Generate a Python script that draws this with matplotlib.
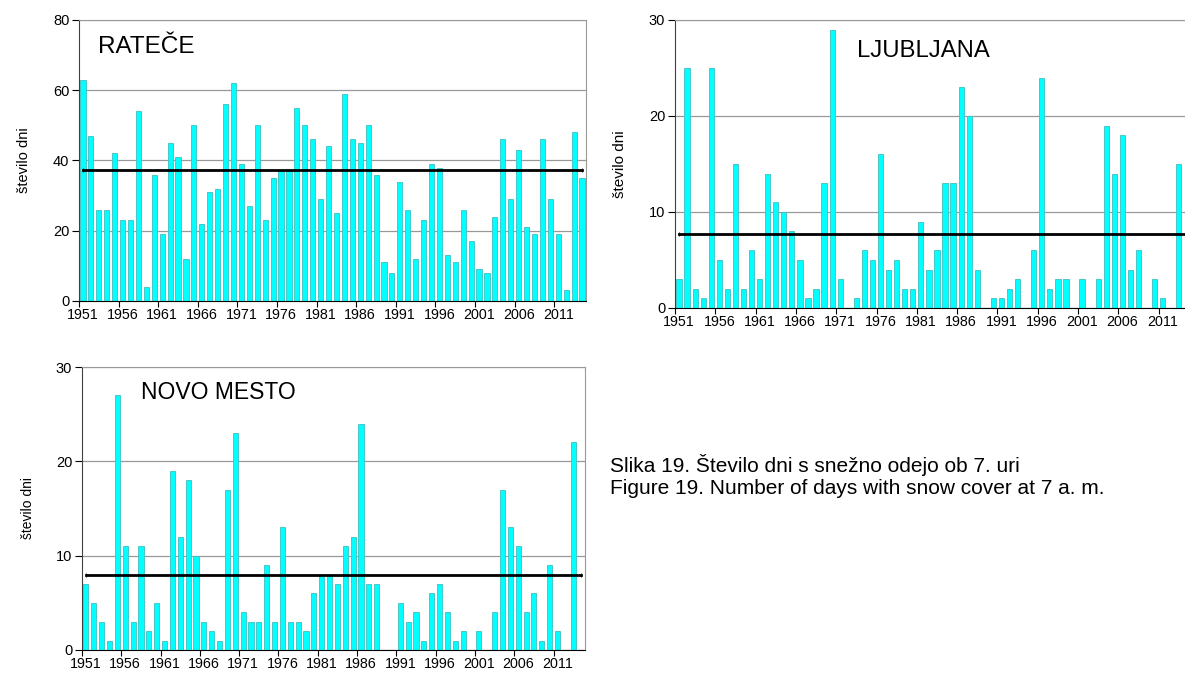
import numpy as np
import matplotlib
matplotlib.use("Agg")
import matplotlib.pyplot as plt

plt.rcParams['font.family'] = ['Liberation Sans', 'DejaVu Sans']

# podatki - število dni s snežno odejo ob 7. uri
leta = list(range(1951, 2015))

ratece = [63, 47, 26, 26, 42, 23, 23, 54, 4, 36,
          19, 45, 41, 12, 50, 22, 31, 32, 56, 62,
          39, 27, 50, 23, 35, 37, 37, 55, 50, 46,
          29, 44, 25, 59, 46, 45, 50, 36, 11, 8,
          34, 26, 12, 23, 39, 38, 13, 11, 26, 17,
          9, 8, 24, 46, 29, 43, 21, 19, 46, 29,
          19, 3, 48, 35]
ratece_povp = 37.4

# zadnje leto (2014) je na sliki odrezano
ljubljana = [3, 25, 2, 1, 25, 5, 2, 15, 2, 6,
             3, 14, 11, 10, 8, 5, 1, 2, 13, 29,
             3, 0, 1, 6, 5, 16, 4, 5, 2, 2,
             9, 4, 6, 13, 13, 23, 20, 4, 0, 1,
             1, 2, 3, 0, 6, 24, 2, 3, 3, 0,
             3, 0, 3, 19, 14, 18, 4, 6, 0, 3,
             1, 0, 15]
ljubljana_povp = 7.75

novo_mesto = [7, 5, 3, 1, 27, 11, 3, 11, 2, 5,
              1, 19, 12, 18, 10, 3, 2, 1, 17, 23,
              4, 3, 3, 9, 3, 13, 3, 3, 2, 6,
              8, 8, 7, 11, 12, 24, 7, 7, 0, 0,
              5, 3, 4, 1, 6, 7, 4, 1, 2, 0,
              2, 0, 4, 17, 13, 11, 4, 6, 1, 9,
              2, 0, 22, 0]
novo_mesto_povp = 7.9

oznake_let = [str(l) for l in leta[::5]]

naslov_si = "Slika 19. Število dni s snežno odejo ob 7. uri"
naslov_en = "Figure 19. Number of days with snow cover at 7 a. m."


def narisi_postajo(ax, vrednosti, povprecje, ime, ymax, ykorak, ime_xy, ime_size, ylab_x, ylab_size):
    n = len(leta)
    x = np.arange(len(vrednosti))
    ax.bar(x, vrednosti, width=0.65, color='#00FFFF', edgecolor='#3FBFBF', linewidth=0.6, zorder=2)
    ax.plot([0, n - 1], [povprecje, povprecje], color='black', lw=2, zorder=3,
            marker='|', markersize=3, markeredgewidth=0.6)
    ax.set_xlim(-0.5, n - 0.5)
    ax.set_ylim(0, ymax)
    ax.set_yticks(np.arange(0, ymax + 1, ykorak))
    ax.yaxis.grid(True, color='#999999', lw=0.9)
    ax.set_axisbelow(True)

    ax.set_xticks(np.arange(-0.5, n - 1, 5))
    ax.set_xticklabels([])
    ax.set_xticks(np.arange(0, n, 5), minor=True)
    ax.set_xticklabels(oznake_let, minor=True, fontsize=10.3)
    ax.tick_params(axis='x', which='major', length=4, direction='out')
    ax.tick_params(axis='x', which='minor', length=0, pad=5)
    ax.tick_params(axis='y', length=5, direction='out', labelsize=10.5, pad=2)

    for s in ['top', 'right']:
        ax.spines[s].set_color('#999999')
    ax.spines['left'].set_color('#404040')
    ax.spines['bottom'].set_color('black')

    ax.set_ylabel('število dni', fontsize=ylab_size)
    ax.yaxis.set_label_coords(ylab_x, 0.5)
    ax.text(ime_xy[0], ime_xy[1], ime, transform=ax.transAxes, fontsize=ime_size, va='baseline')


fig = plt.figure(figsize=(11.85, 6.77), dpi=100)

ax1 = fig.add_axes([0.0667, 0.5554, 0.4278, 0.4151])
narisi_postajo(ax1, ratece, ratece_povp, 'RATEČE', 80, 20, (0.0375, 0.883), 17.5, -0.095, 10.5)

ax2 = fig.add_axes([0.5696, 0.5451, 0.4354, 0.4254])
narisi_postajo(ax2, ljubljana, ljubljana_povp, 'LJUBLJANA', 30, 10, (0.353, 0.871), 17.2, -0.093, 11)

ax3 = fig.add_axes([0.0692, 0.0399, 0.4245, 0.418])
narisi_postajo(ax3, novo_mesto, novo_mesto_povp, 'NOVO MESTO', 30, 10, (0.117, 0.887), 16.5, -0.093, 10)

fig.text(610 / 1185, 1 - 472 / 677, naslov_si, fontsize=15, va='baseline')
fig.text(610 / 1185, 1 - 494 / 677, naslov_en, fontsize=15, va='baseline')

fig.savefig('out.png', dpi=100)
